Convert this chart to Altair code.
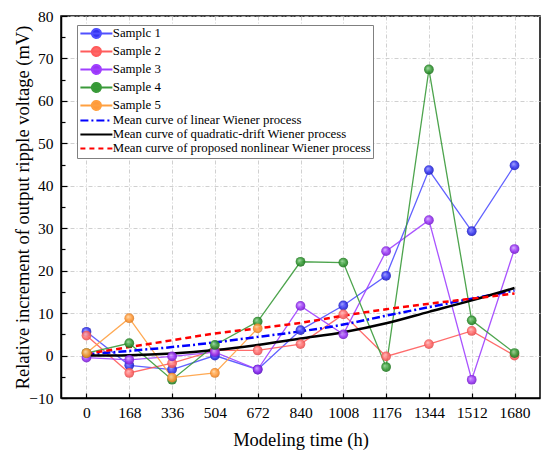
import altair as alt
import pandas as pd

TIMES = [0, 168, 336, 504, 672, 840, 1008, 1176, 1344, 1512, 1680]
Y_TICKS = [-10, 0, 10, 20, 30, 40, 50, 60, 70, 80]
Y_MINOR = [-5, 5, 15, 25, 35, 45, 55, 65, 75]

SAMPLE_1 = [5.6, -2.3, -3.3, 0.0, -3.3, 6.0, 11.8, 18.8, 43.7, 29.3, 44.8]
SAMPLE_2 = [4.7, -4.1, -1.8, 1.2, 1.2, 2.7, 9.7, -0.2, 2.7, 5.8, 0.0]
SAMPLE_3 = [-0.5, -1.0, -0.2, 0.8, -3.3, 11.7, 5.0, 24.6, 31.9, -5.7, 25.1]
SAMPLE_4 = [0.6, 2.9, -5.7, 2.5, 8.0, 22.1, 21.9, -2.7, 67.4, 8.3, 0.6]
SAMPLE_5 = [0.6, 8.8, -5.2, -4.1, 6.4]
MEAN_LINEAR = [0.3, 1.1, 2.0, 3.1, 4.4, 5.7, 7.3, 9.4, 11.4, 13.4, 15.3]
MEAN_QUADRATIC = [0.0, 0.1, 0.5, 1.3, 2.5, 4.0, 5.5, 7.6, 10.3, 13.0, 15.9]
MEAN_NONLINEAR = [0.4, 2.0, 3.6, 5.2, 6.4, 7.7, 9.4, 10.9, 12.2, 13.4, 14.6]

SERIES = ["Samplc 1", "Sample 2", "Sample 3", "Sample 4", "Sample 5",
          "Mean curve of linear Wiener process",
          "Mean curve of quadratic-drift Wiener process",
          "Mean curve of proposed nonlinear Wiener process"]
VALUES = [SAMPLE_1, SAMPLE_2, SAMPLE_3, SAMPLE_4, SAMPLE_5,
          MEAN_LINEAR, MEAN_QUADRATIC, MEAN_NONLINEAR]
LINE_COLORS = ["#5050ff", "#ff5c5c", "#a040ff", "#3a9a3a", "#ffa040",
               "#0000ff", "#000000", "#ff0000"]
POINT_COLORS = [("#a0a0ff", "#3535f0", "#1c1ca8"),
                ("#ffc0c0", "#ff6a6a", "#d84848"),
                ("#d8b0ff", "#9a35f5", "#6a1db8"),
                ("#9fd89f", "#359a35", "#1d6a1d"),
                ("#ffd8a8", "#ff9a3a", "#d07420")]
FILL_COLORS = [c[1] for c in POINT_COLORS] + ["#0000ff", "#000000", "#ff0000"]

SAMPLE_SYM = "M-3.2 0 L3.2 0 M0.9 0 A0.9 0.9 0 1 1 -0.9 0 A0.9 0.9 0 1 1 0.9 0 Z"
LINE_SYM = "M-3.2 0 L3.2 0"
SHAPES = [SAMPLE_SYM] * 5 + [LINE_SYM] * 3
DASHES = [[1, 0]] * 5 + [[8, 3, 2, 3], [1, 0], [5, 4]]

rows = []
for name, vals in zip(SERIES, VALUES):
    for t, v in zip(TIMES, vals):
        rows.append({"t": t, "v": v, "series": name})
df = pd.DataFrame(rows)

FONT = "Liberation Serif, Times New Roman, serif"
W, H = 479, 382
xs = alt.Scale(domain=[-100, 1780], nice=False, zero=False)
ys = alt.Scale(domain=[-10, 80], nice=False, zero=False)

legend = alt.Legend(
    orient="none", legendX=16, legendY=9, title=None,
    symbolSize=100, symbolOffset=11, labelOffset=10,
    padding=2, rowPadding=0, labelLimit=400,
    labelFont=FONT, labelFontSize=12.8, labelColor="black",
    strokeColor="#808080", fillColor="white", symbolStrokeWidth=2,
    symbolOpacity=1,
)
stroke_scale = alt.Scale(domain=SERIES, range=LINE_COLORS)

main_x = alt.Axis(values=TIMES, format="d", title="Modeling time (h)", titleFont=FONT,
                  titleFontSize=18.5, titleFontWeight="normal", titleColor="black", titlePadding=10,
                  labelFont=FONT, labelFontSize=15.5, labelColor="black", labelPadding=7,
                  labelFlush=False, ticks=False, domainColor="black", domainWidth=1.5,
                  grid=True, gridColor="#c4c4c4", gridDash=[4, 2, 1, 2], gridWidth=0.8)
main_y = alt.Axis(values=Y_TICKS, title="Relative increment of output ripple voltage (mV)",
                  titleFont=FONT, titleFontSize=18.5, titleFontWeight="normal", titleColor="black",
                  titlePadding=-4, labelFont=FONT, labelFontSize=15.5, labelColor="black",
                  labelPadding=8, labelFlush=False, ticks=False, domainColor="black",
                  domainWidth=1.5, grid=True, gridColor="#c4c4c4", gridDash=[4, 2, 1, 2],
                  gridWidth=0.8)
in_x = alt.Axis(orient="top", offset=-H, values=TIMES, labels=False, domain=False, grid=False,
                ticks=True, tickSize=5, tickWidth=1.2, tickColor="black", title=None)
in_y = alt.Axis(orient="right", offset=-W, values=Y_TICKS, labels=False, domain=False, grid=False,
                ticks=True, tickSize=6, tickWidth=1.2, tickColor="black", title=None)
in_y_minor = alt.Axis(orient="right", offset=-W, values=Y_MINOR, labels=False, domain=False,
                      grid=False, ticks=True, tickSize=4, tickWidth=1.2, tickColor="black",
                      title=None)

base = alt.Chart(df)

# transparent carrier layer that builds the combined legend
legend_layer = base.mark_point(filled=True, size=100, opacity=0).encode(
    x=alt.X("t:Q", scale=xs, axis=None),
    y=alt.Y("v:Q", scale=ys, axis=None),
    fill=alt.Fill("series:N", scale=alt.Scale(domain=SERIES, range=FILL_COLORS), legend=legend),
    stroke=alt.Stroke("series:N", scale=stroke_scale, legend=legend),
    shape=alt.Shape("series:N", scale=alt.Scale(domain=SERIES, range=SHAPES), legend=legend),
    strokeDash=alt.StrokeDash("series:N", scale=alt.Scale(domain=SERIES, range=DASHES), legend=legend),
)

sample_lines = base.transform_filter(
    alt.FieldOneOfPredicate(field="series", oneOf=SERIES[:5])
).mark_line(strokeWidth=1.3, opacity=0.9).encode(
    x=alt.X("t:Q", scale=xs, axis=main_x),
    y=alt.Y("v:Q", scale=ys, axis=main_y),
    stroke=alt.Stroke("series:N", scale=stroke_scale, legend=legend),
)

m_lin = base.transform_filter(alt.datum.series == SERIES[5]).mark_line(
    color="#0000ff", strokeWidth=2.5, strokeDash=[8, 3, 2, 3], interpolate="monotone"
).encode(x=alt.X("t:Q", scale=xs, axis=in_x), y=alt.Y("v:Q", scale=ys, axis=in_y))

m_quad = base.transform_filter(alt.datum.series == SERIES[6]).mark_line(
    color="#000000", strokeWidth=2.5, interpolate="monotone"
).encode(x=alt.X("t:Q", scale=xs, axis=None), y=alt.Y("v:Q", scale=ys, axis=in_y_minor))

m_non = base.transform_filter(alt.datum.series == SERIES[7]).mark_line(
    color="#ff0000", strokeWidth=2.5, strokeDash=[6, 4], interpolate="monotone"
).encode(x=alt.X("t:Q", scale=xs, axis=None), y=alt.Y("v:Q", scale=ys, axis=None))

points = []
for name, (hi, mid, lo) in zip(SERIES[:5], POINT_COLORS):
    grad = alt.RadialGradient(
        gradient="radial",
        stops=[alt.GradientStop(color=hi, offset=0),
               alt.GradientStop(color=mid, offset=0.6),
               alt.GradientStop(color=lo, offset=1)],
        x1=0.38, y1=0.35, r1=0, x2=0.5, y2=0.5, r2=0.55,
    )
    points.append(
        base.transform_filter(alt.datum.series == name).mark_circle(
            size=95, fill=grad, opacity=0.9
        ).encode(x=alt.X("t:Q", scale=xs, axis=None), y=alt.Y("v:Q", scale=ys, axis=None))
    )

chart = alt.layer(sample_lines, m_lin, m_quad, m_non, *points, legend_layer).resolve_axis(
    x="independent", y="independent"
).properties(
    width=W, height=H,
    autosize=alt.AutoSizeParams(type="none"),
    padding={"left": 53, "top": 8, "right": 2, "bottom": 53},
).configure(font=FONT).configure_view(stroke="black", strokeWidth=1.5)

chart.save("out.html", embed_options={"renderer": "svg", "actions": False})
